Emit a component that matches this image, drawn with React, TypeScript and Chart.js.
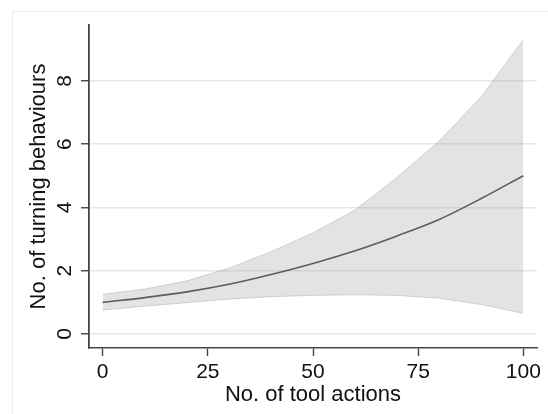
import React, { useEffect, useRef } from 'react';
import { Chart, registerables } from 'chart.js';

Chart.register(...registerables);

// Data
const toolActions = [0, 10, 20, 30, 40, 50, 60, 70, 80, 90, 100];
const predicted = [1.0, 1.15, 1.33, 1.57, 1.88, 2.23, 2.63, 3.1, 3.62, 4.28, 5.0];
const upperCI = [1.26, 1.42, 1.68, 2.08, 2.6, 3.2, 3.92, 4.95, 6.1, 7.5, 9.3];
const lowerCI = [0.76, 0.88, 0.99, 1.1, 1.18, 1.22, 1.24, 1.22, 1.13, 0.93, 0.65];
const xTicks = [0, 25, 50, 75, 100];
const yTicks = [0, 2, 4, 6, 8];
const xTitle = 'No. of tool actions';
const yTitle = 'No. of turning behaviours';

const FONT = '"Liberation Sans", Arial, sans-serif';
const TEXT = '#111111';
const AXIS = '#444444';
const GRID = '#e6e6e6';

const pts = (ys: number[]) => toolActions.map((x, i) => ({ x, y: ys[i] }));

const rotatedYLabels = {
  id: 'rotatedYLabels',
  afterDraw(chart: any) {
    const s = chart.scales.y;
    const ctx = chart.ctx;
    ctx.save();
    ctx.fillStyle = TEXT;
    ctx.font = `21px ${FONT}`;
    ctx.textAlign = 'center';
    ctx.textBaseline = 'middle';
    for (const v of yTicks) {
      const py = s.getPixelForValue(v);
      ctx.save();
      ctx.translate(s.right - 24, py);
      ctx.rotate(-Math.PI / 2);
      ctx.fillText(String(v), 0, 0);
      ctx.restore();
    }
    ctx.restore();
  },
};

export default function App() {
  const ref = useRef<HTMLCanvasElement | null>(null);

  useEffect(() => {
    if (!ref.current) return;
    const chart = new Chart(ref.current, {
      type: 'line',
      data: {
        datasets: [
          {
            label: 'upper',
            data: pts(upperCI),
            borderColor: 'rgba(150,150,150,0.35)',
            borderWidth: 1,
            backgroundColor: 'rgba(150,150,150,0.27)',
            fill: '+1',
            pointRadius: 0,
            tension: 0,
          },
          {
            label: 'lower',
            data: pts(lowerCI),
            borderColor: 'rgba(150,150,150,0.35)',
            borderWidth: 1,
            backgroundColor: 'rgba(0,0,0,0)',
            fill: false,
            pointRadius: 0,
            tension: 0,
          },
          {
            label: 'predicted',
            data: pts(predicted),
            borderColor: '#474747',
            borderWidth: 1.6,
            fill: false,
            pointRadius: 0,
            cubicInterpolationMode: 'monotone',
          },
        ],
      },
      options: {
        responsive: false,
        animation: false,
        events: [],
        layout: { padding: { left: 0, top: 25, right: 11, bottom: 0 } },
        plugins: {
          legend: { display: false },
          tooltip: { enabled: false },
          filler: { propagate: false },
        },
        scales: {
          x: {
            type: 'linear',
            min: -3.26,
            max: 103.26,
            afterBuildTicks: (s: any) => {
              s.ticks = xTicks.map((value) => ({ value }));
            },
            afterFit: (s: any) => {
              s.height = 66;
            },
            border: { display: true, color: AXIS, width: 1.6 },
            grid: {
              drawOnChartArea: false,
              drawTicks: true,
              tickLength: 8,
              tickColor: AXIS,
              tickWidth: 1.4,
            },
            ticks: {
              color: TEXT,
              font: { family: FONT, size: 21 },
              padding: 4,
              maxRotation: 0,
              autoSkip: false,
              callback: (v: any) => String(v),
            },
            title: {
              display: true,
              text: xTitle,
              color: TEXT,
              font: { family: FONT, size: 22 },
              padding: { top: 0, bottom: 6 },
            },
          },
          y: {
            type: 'linear',
            min: -0.442,
            max: 9.763,
            afterBuildTicks: (s: any) => {
              s.ticks = yTicks.map((value) => ({ value }));
            },
            afterFit: (s: any) => {
              s.width = 89;
            },
            border: { display: true, color: AXIS, width: 1.8 },
            grid: {
              drawOnChartArea: true,
              color: GRID,
              lineWidth: 1.5,
              drawTicks: true,
              tickLength: 8,
              tickColor: AXIS,
              tickWidth: 1.4,
            },
            ticks: { display: false },
            title: {
              display: true,
              text: yTitle,
              color: TEXT,
              font: { family: FONT, size: 22 },
              padding: { top: 26, bottom: 0 },
            },
          },
        },
      },
      plugins: [rotatedYLabels],
    } as any);
    return () => chart.destroy();
  }, []);

  return (
    <div
      style={{
        position: 'fixed',
        left: 0,
        top: 0,
        width: 548,
        height: 414,
        background: '#ffffff',
        overflow: 'hidden',
      }}
    >
      <div
        style={{
          position: 'absolute',
          left: 12,
          top: 11,
          width: 560,
          height: 420,
          borderLeft: '1px solid #ececec',
          borderTop: '1px solid #ececec',
        }}
      />
      <canvas
        ref={ref}
        width={548}
        height={414}
        style={{ position: 'absolute', left: 0, top: 0, width: 548, height: 414 }}
      />
    </div>
  );
}
